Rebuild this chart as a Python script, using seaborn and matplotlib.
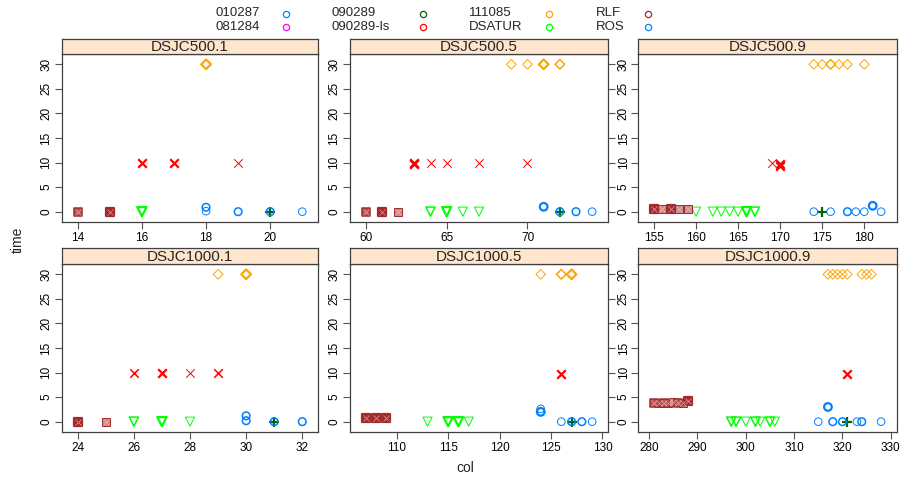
import pandas as pd
import matplotlib
matplotlib.use('Agg')
import matplotlib.pyplot as plt
from matplotlib.lines import Line2D
from matplotlib.colors import to_rgb
import seaborn as sns

# legend order
algorithms = ['010287', '081284', '090289', '090289-ls', '111085', 'DSATUR', 'RLF', 'ROS']
graphs = ['DSJC500.1', 'DSJC500.5', 'DSJC500.9', 'DSJC1000.1', 'DSJC1000.5', 'DSJC1000.9']

# (algorithm, col, time, runs landing on the same spot)
dsjc500_1 = [
    ('010287', 18, 0.9, 2),
    ('090289', 20, 0, 3),
    ('090289-ls', 16, 10, 3), ('090289-ls', 17, 10, 3), ('090289-ls', 19, 10, 1),
    ('111085', 18, 30, 3),
    ('DSATUR', 16, 0, 3),
    ('RLF', 14, 0, 2), ('RLF', 15, 0, 3),
    ('ROS', 18, 0.1, 1), ('ROS', 19, 0, 2), ('ROS', 20, 0, 2), ('ROS', 21, 0, 1),
]
dsjc500_5 = [
    ('010287', 71, 1.0, 3),
    ('090289', 72, 0, 3),
    ('090289-ls', 63, 9.7, 3), ('090289-ls', 63, 10, 3), ('090289-ls', 64, 10, 1),
    ('090289-ls', 65, 10, 1), ('090289-ls', 67, 10, 1), ('090289-ls', 70, 10, 1),
    ('111085', 69, 30, 1), ('111085', 70, 30, 1), ('111085', 71, 30, 3), ('111085', 72, 30, 2),
    ('DSATUR', 64, 0, 2), ('DSATUR', 65, 0, 3), ('DSATUR', 66, 0, 1), ('DSATUR', 67, 0, 1),
    ('RLF', 60, 0, 2), ('RLF', 61, 0, 3), ('RLF', 62, 0, 1),
    ('ROS', 72, 0, 2), ('ROS', 73, 0, 2), ('ROS', 74, 0, 1),
]
dsjc500_9 = [
    ('010287', 181, 1.2, 3),
    ('090289', 175, 0, 3),
    ('090289-ls', 169, 10, 1), ('090289-ls', 170, 9.3, 3), ('090289-ls', 170, 9.8, 3),
    ('111085', 174, 30, 1), ('111085', 175, 30, 1), ('111085', 176, 30, 2),
    ('111085', 177, 30, 1), ('111085', 178, 30, 1), ('111085', 180, 30, 1),
    ('DSATUR', 160, 0, 1), ('DSATUR', 162, 0, 1), ('DSATUR', 163, 0, 1), ('DSATUR', 164, 0, 1),
    ('DSATUR', 165, 0, 1), ('DSATUR', 166, 0, 3), ('DSATUR', 167, 0, 2),
    ('RLF', 155, 0.5, 3), ('RLF', 156, 0.5, 1), ('RLF', 157, 0.5, 3),
    ('RLF', 158, 0.5, 1), ('RLF', 159, 0.5, 1),
    ('ROS', 174, 0, 1), ('ROS', 176, 0, 1), ('ROS', 178, 0, 2), ('ROS', 179, 0, 1),
    ('ROS', 180, 0, 1), ('ROS', 182, 0, 1),
]
dsjc1000_1 = [
    ('010287', 30, 1.2, 2),
    ('090289', 31, 0, 3),
    ('090289-ls', 26, 10, 2), ('090289-ls', 27, 10, 3), ('090289-ls', 28, 10, 1), ('090289-ls', 29, 10, 2),
    ('111085', 29, 30, 1), ('111085', 30, 30, 3),
    ('DSATUR', 26, 0, 2), ('DSATUR', 27, 0, 3), ('DSATUR', 28, 0, 1),
    ('RLF', 24, 0, 3), ('RLF', 25, 0, 1),
    ('ROS', 30, 0.2, 2), ('ROS', 31, 0, 2), ('ROS', 32, 0, 2),
]
dsjc1000_5 = [
    ('010287', 124, 2.0, 3), ('010287', 124, 2.6, 1),
    ('090289', 127, 0, 3),
    ('090289-ls', 126, 9.8, 3),
    ('111085', 124, 30, 1), ('111085', 126, 30, 2), ('111085', 127, 30, 3),
    ('DSATUR', 113, 0, 1), ('DSATUR', 115, 0, 3), ('DSATUR', 116, 0, 3), ('DSATUR', 117, 0, 1),
    ('RLF', 107, 0.8, 3), ('RLF', 108, 0.8, 3), ('RLF', 109, 0.8, 3),
    ('ROS', 126, 0, 1), ('ROS', 127, 0, 2), ('ROS', 128, 0, 2), ('ROS', 129, 0, 1),
]
dsjc1000_9 = [
    ('010287', 317, 3.0, 3),
    ('090289', 321, 0, 3),
    ('090289-ls', 321, 9.8, 3),
    ('111085', 317, 30, 1), ('111085', 318, 30, 1), ('111085', 319, 30, 1), ('111085', 320, 30, 1),
    ('111085', 321, 30, 1), ('111085', 324, 30, 1), ('111085', 325, 30, 1), ('111085', 326, 30, 1),
    ('DSATUR', 297, 0, 2), ('DSATUR', 298, 0, 2), ('DSATUR', 300, 0, 1), ('DSATUR', 302, 0, 2),
    ('DSATUR', 303, 0, 1), ('DSATUR', 305, 0, 2), ('DSATUR', 306, 0, 1),
    ('RLF', 281, 3.9, 2), ('RLF', 282, 3.9, 1), ('RLF', 283, 3.9, 2), ('RLF', 284, 3.9, 1),
    ('RLF', 285, 4.0, 1), ('RLF', 286, 3.9, 2), ('RLF', 287, 3.9, 1), ('RLF', 288, 4.2, 3),
    ('ROS', 315, 0, 1), ('ROS', 318, 0, 2), ('ROS', 320, 0, 2), ('ROS', 323, 0, 1),
    ('ROS', 324, 0, 2), ('ROS', 328, 0, 1),
]

x_ticks = [
    [14, 16, 18, 20], [60, 65, 70], [155, 160, 165, 170, 175, 180],
    [24, 26, 28, 30, 32], [110, 115, 120, 125, 130], [280, 290, 300, 310, 320, 330],
]
y_ticks = [0, 5, 10, 15, 20, 25, 30]

frames = []
for g, rows in zip(graphs, [dsjc500_1, dsjc500_5, dsjc500_9, dsjc1000_1, dsjc1000_5, dsjc1000_9]):
    d = pd.DataFrame(rows, columns=['alg', 'col', 'time', 'runs'])
    d['graph'] = g
    frames.append(d)
df = pd.concat(frames, ignore_index=True)

# lattice superpose.symbol look (colours recycle after 7)
colors = {'010287': '#0080ff', '081284': '#ff00ff', '090289': '#006400', '090289-ls': '#ff0000',
          '111085': '#ffa500', 'DSATUR': '#00ff00', 'RLF': '#a52a2a', 'ROS': '#0080ff'}
markers = {'010287': 'o', '081284': '^', '090289': '+', '090289-ls': 'x',
           '111085': 'D', 'DSATUR': 'v', 'RLF': 's', 'ROS': 'o'}
sizes = {'o': 30, '^': 40, '+': 55, 'x': 38, 'D': 24, 'v': 44, 's': 36}
lw_runs = {1: 0.7, 2: 1.1, 3: 1.6}

sns.set_theme(style='white')
plt.rcParams['font.family'] = ['Liberation Sans', 'DejaVu Sans']

W, H = 902, 478
fig = plt.figure(figsize=(W / 100, H / 100), dpi=100)

col_px = [(62, 318), (350, 608), (638, 897)]
row_px = [(54, 222, 39), (264, 432, 248)]  # top, bottom, strip top

ymin, ymax = df['time'].min(), df['time'].max()
ypad = 0.07 * (ymax - ymin)


def mix(c, t):
    r, g, b = to_rgb(c)
    return (1 - t + t * r, 1 - t + t * g, 1 - t + t * b)


for i, g in enumerate(graphs):
    c_i, r_i = i % 3, i // 3
    x0, x1 = col_px[c_i]
    y0, y1, s0 = row_px[r_i]
    ax = fig.add_axes([x0 / W, (H - y1) / H, (x1 - x0) / W, (y1 - y0) / H])
    sub = df[df['graph'] == g]

    for alg in algorithms:
        a = sub[sub['alg'] == alg]
        for n, part in a.groupby('runs'):
            m = markers[alg]
            c = colors[alg]
            kw = dict(x=part['col'], y=part['time'], ax=ax, marker=m, s=sizes[m],
                      linewidth=lw_runs[n], legend=False, zorder=3)
            if m in ('+', 'x'):
                sns.scatterplot(color=c, **kw)
            elif alg == 'RLF':
                face = mix(c, {1: 0.55, 2: 0.8, 3: 1.0}[n])
                sns.scatterplot(color=c, facecolor=face, edgecolor=c, **kw)
                sns.scatterplot(x=part['col'], y=part['time'], ax=ax, marker='x', s=18,
                                color='#f0d0d0', linewidth=0.5, alpha=0.7, legend=False, zorder=4)
            else:
                sns.scatterplot(color=c, facecolor='none', edgecolor=c, **kw)

    xmin, xmax = sub['col'].min(), sub['col'].max()
    xpad = 0.07 * (xmax - xmin)
    ax.set_xlim(xmin - xpad, xmax + xpad)
    ax.set_ylim(ymin - ypad, ymax + ypad)
    ax.set_xticks(x_ticks[i])
    ax.set_yticks(y_ticks)
    ax.set_xlabel('')
    ax.set_ylabel('')
    for sp in ax.spines.values():
        sp.set_color('#404040')
        sp.set_linewidth(0.9)
    ax.tick_params(axis='both', which='major', length=5, width=0.8, color='#555555',
                   labelsize=8.5, pad=2, labelcolor='black')
    ax.tick_params(axis='x', bottom=True)
    if c_i == 0:
        ax.tick_params(axis='y', left=True, labelleft=True, right=False, labelright=False)
    elif c_i == 1:
        ax.tick_params(axis='y', left=True, labelleft=True, right=True, labelright=True)
    else:
        ax.tick_params(axis='y', left=True, labelleft=False, right=False, labelright=False)
    for t in ax.get_yticklabels():
        t.set_rotation(90)
        t.set_va('center')

    # strip
    sax = fig.add_axes([x0 / W, (H - y0) / H, (x1 - x0) / W, (y0 - s0) / H])
    sax.set_facecolor('#ffe5cc')
    sax.set_xticks([])
    sax.set_yticks([])
    for sp in sax.spines.values():
        sp.set_color('#404040')
        sp.set_linewidth(0.9)
    sax.text(0.5, 0.45, g, ha='center', va='center', fontsize=11, transform=sax.transAxes)

# key on top: label then an open circle
key_cols = [(215, 286), (331, 423), (469, 549), (596, 648)]
key_rows = [13.5, 26.5]
for k, alg in enumerate(algorithms):
    tx, mx = key_cols[k // 2]
    ty = key_rows[k % 2]
    fig.text(tx / W, 1 - ty / H, alg, ha='left', va='center', fontsize=9.5)
    fig.add_artist(Line2D([mx / W], [1 - ty / H], marker='o', markersize=4.5, linestyle='none',
                          markerfacecolor='none', markeredgecolor=colors[alg], markeredgewidth=0.9,
                          transform=fig.transFigure))

fig.text(18 / W, 1 - 240 / H, 'time', rotation=90, ha='center', va='center', fontsize=10)
fig.text(465 / W, 1 - 468 / H, 'col', ha='center', va='center', fontsize=10)

fig.savefig('out.png', dpi=100)
